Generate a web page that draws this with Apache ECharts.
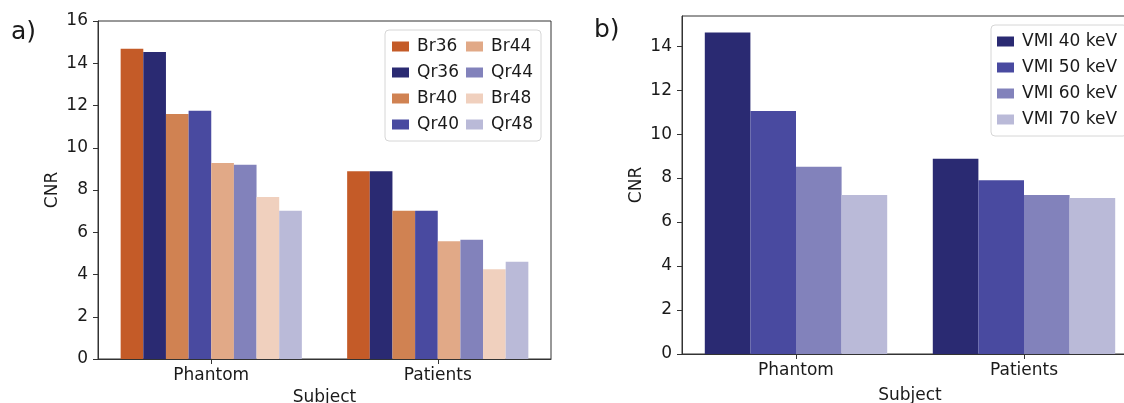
<!DOCTYPE html>
<html>
<head>
<meta charset="utf-8">
<script src="https://cdn.jsdelivr.net/npm/echarts@6/dist/echarts.min.js"></script>
<style>
html,body{margin:0;padding:0;background:#fff;}
#c{width:1124px;height:403px;}
</style>
</head>
<body>
<div id="c"></div>
<script>
// ---- data ----
const categories = ['Phantom', 'Patients'];
const leftNames = ['Br36', 'Qr36', 'Br40', 'Qr40', 'Br44', 'Qr44', 'Br48', 'Qr48'];
const br36 = [14.69, 8.89];
const qr36 = [14.53, 8.89];
const br40 = [11.60, 7.02];
const qr40 = [11.75, 7.02];
const br44 = [9.28, 5.57];
const qr44 = [9.19, 5.64];
const br48 = [7.67, 4.25];
const qr48 = [7.02, 4.60];
const rightNames = ['VMI 40 keV', 'VMI 50 keV', 'VMI 60 keV', 'VMI 70 keV'];
const vmi40 = [14.62, 8.88];
const vmi50 = [11.05, 7.90];
const vmi60 = [8.52, 7.23];
const vmi70 = [7.23, 7.09];
const leftTicks = [0, 2, 4, 6, 8, 10, 12, 14, 16];
const rightTicks = [0, 2, 4, 6, 8, 10, 12, 14];
const leftMax = 16;
const rightMax = 15.37;

// ---- style ----
const leftColors = ['#C45B28', '#2A2A72', '#D08252', '#494AA0', '#E1A987', '#8282BB', '#F0D0BE', '#BABAD8'];
const rightColors = ['#2A2A72', '#494AA0', '#8282BB', '#BABAD8'];
const FONT = 'DejaVu Sans';
const FS = 17;
const TXT = '#1a1a1a';
const AX = '#333333';

const leftData = [br36, qr36, br40, qr40, br44, qr44, br48, qr48];
const rightData = [vmi40, vmi50, vmi60, vmi70];

function xAxis(gi, gap) {
  return {
    type: 'category', gridIndex: gi, data: categories,
    name: 'Subject', nameLocation: 'middle', nameGap: gap,
    nameTextStyle: {fontFamily: FONT, fontSize: FS, color: TXT},
    axisLine: {show: true, lineStyle: {color: AX, width: 1}},
    axisTick: {show: true, alignWithLabel: true, length: 5, lineStyle: {color: AX}},
    axisLabel: {fontFamily: FONT, fontSize: FS, color: TXT, margin: 8},
    splitLine: {show: false}
  };
}
function yAxis(gi, max, ticks) {
  return {
    type: 'value', gridIndex: gi, min: 0, max: max, interval: 2,
    name: 'CNR', nameLocation: 'middle', nameGap: 37, nameRotate: 90,
    nameTextStyle: {fontFamily: FONT, fontSize: FS, color: TXT},
    axisLine: {show: true, lineStyle: {color: AX, width: 1}},
    axisTick: {show: true, length: 5, lineStyle: {color: AX}, customValues: ticks},
    axisLabel: {fontFamily: FONT, fontSize: FS, color: TXT, margin: 10, customValues: ticks},
    splitLine: {show: false}
  };
}
const legendCommon = {
  orient: 'vertical', itemGap: 7, itemWidth: 17, itemHeight: 10,
  icon: 'rect',
  textStyle: {fontFamily: FONT, fontSize: FS, color: TXT, lineHeight: 19, padding: [0, 0, 0, 3]},
  backgroundColor: 'rgba(255,255,255,0.85)',
  borderColor: '#d6d6d6', borderWidth: 1, borderRadius: 4,
  selectedMode: false
};

const series = [];
leftNames.forEach((n, i) => {
  series.push({
    name: n, type: 'bar', xAxisIndex: 0, yAxisIndex: 0,
    data: leftData[i], barGap: '0%', barCategoryGap: '20%',
    itemStyle: {color: leftColors[i]}
  });
});
rightNames.forEach((n, i) => {
  series.push({
    name: n, type: 'bar', xAxisIndex: 1, yAxisIndex: 1,
    data: rightData[i], barGap: '0%', barCategoryGap: '20%',
    itemStyle: {color: rightColors[i]}
  });
});

const chart = echarts.init(document.getElementById('c'), null, {renderer: 'canvas'});
chart.setOption({
  animation: false,
  backgroundColor: '#ffffff',
  title: [
    {text: 'a)', left: 11, top: 17, padding: 0, textStyle: {fontFamily: FONT, fontSize: 25, fontWeight: 'normal', color: TXT, lineHeight: 30}},
    {text: 'b)', left: 594, top: 15, padding: 0, textStyle: {fontFamily: FONT, fontSize: 25, fontWeight: 'normal', color: TXT, lineHeight: 30}}
  ],
  grid: [
    {left: 98, top: 21, width: 453, height: 338, show: true, borderColor: AX, borderWidth: 1, backgroundColor: 'transparent', outerBoundsMode: 'none', containLabel: false},
    {left: 682, top: 16, width: 456, height: 338, show: true, borderColor: AX, borderWidth: 1, backgroundColor: 'transparent', outerBoundsMode: 'none', containLabel: false}
  ],
  xAxis: [xAxis(0, 30), xAxis(1, 33)],
  yAxis: [yAxis(0, leftMax, leftTicks), yAxis(1, rightMax, rightTicks)],
  legend: [
    Object.assign({}, legendCommon, {data: leftNames, left: 385, top: 30, height: 100, padding: [7, 8, 7, 7]}),
    Object.assign({}, legendCommon, {data: rightNames, left: 991, top: 25, height: 100, padding: [7, 10, 7, 6]})
  ],
  series: series
});
</script>
</body>
</html>
